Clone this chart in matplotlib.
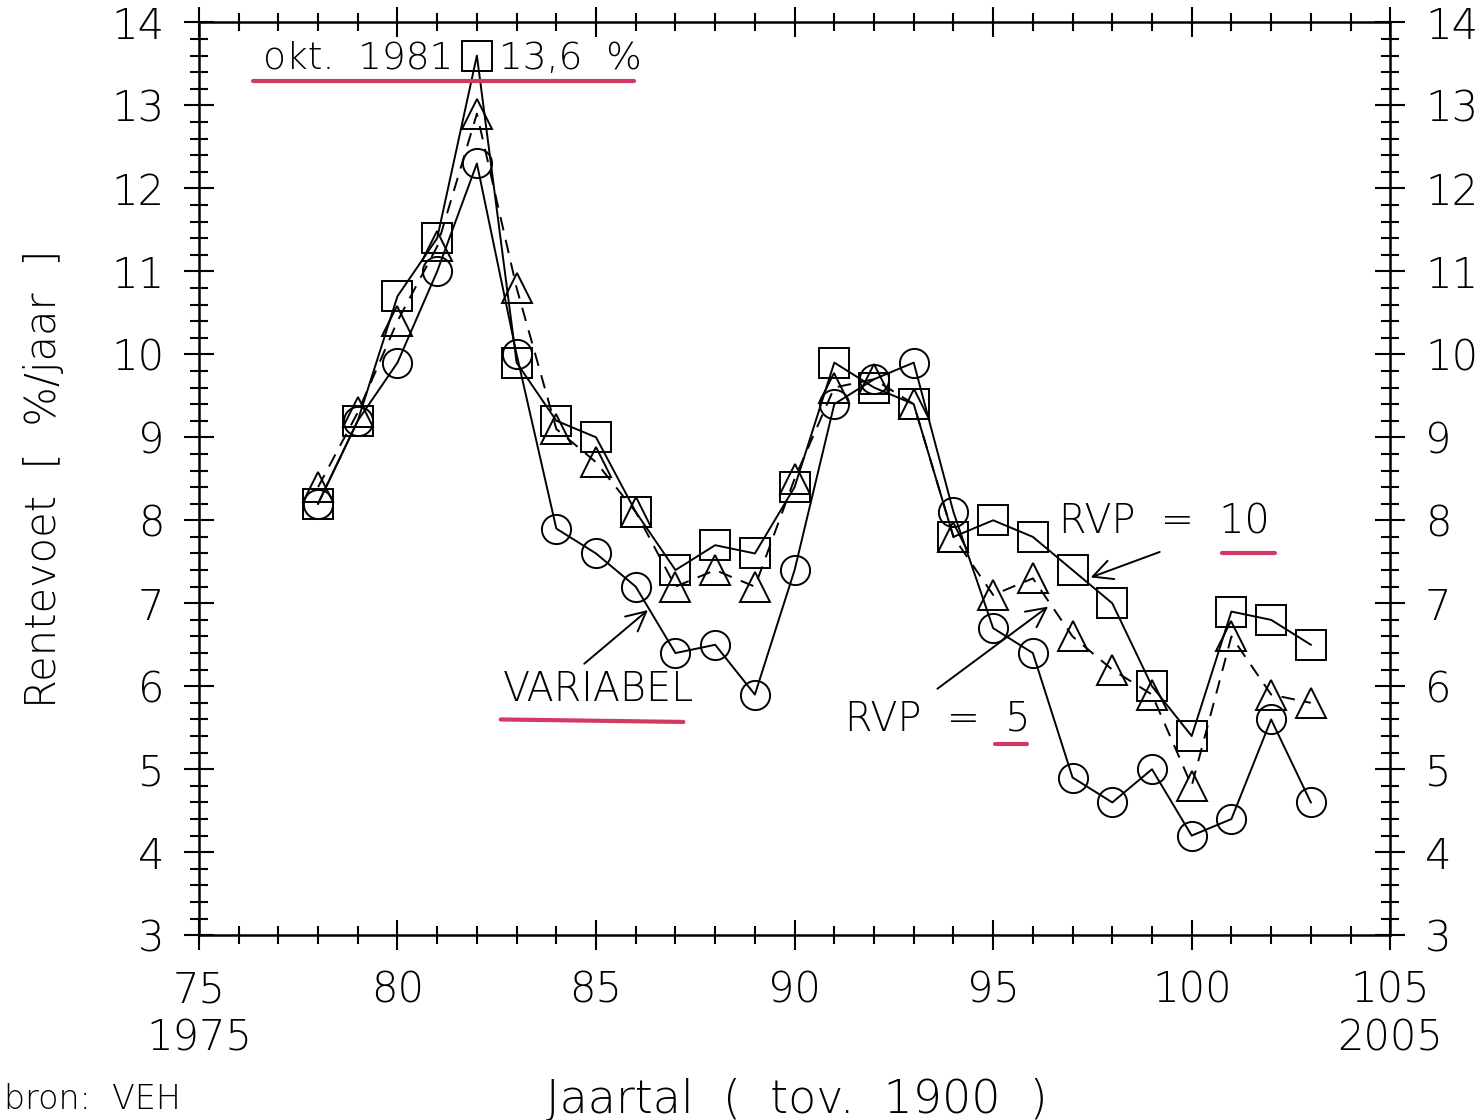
import numpy as np
import matplotlib.pyplot as plt
from matplotlib.ticker import MultipleLocator

# jaartallen (tov. 1900)
jaar = [78, 79, 80, 81, 82, 83, 84, 85, 86, 87, 88, 89, 90,
        91, 92, 93, 94, 95, 96, 97, 98, 99, 100, 101, 102, 103]

# rentevoet [%/jaar]
variabel = [8.2, 9.2, 9.9, 11.0, 12.3, 10.0, 7.9, 7.6, 7.2, 6.4, 6.5, 5.9, 7.4,
            9.4, 9.7, 9.9, 8.1, 6.7, 6.4, 4.9, 4.6, 5.0, 4.2, 4.4, 5.6, 4.6]
rvp5 = [8.4, 9.3, 10.4, 11.3, 12.9, 10.8, 9.1, 8.7, 8.1, 7.2, 7.4, 7.2, 8.5,
        9.6, 9.7, 9.4, 7.8, 7.1, 7.3, 6.6, 6.2, 5.9, 4.8, 6.6, 5.9, 5.8]
rvp10 = [8.2, 9.2, 10.7, 11.4, 13.6, 9.9, 9.2, 9.0, 8.1, 7.4, 7.7, 7.6, 8.4,
         9.9, 9.6, 9.4, 7.8, 8.0, 7.8, 7.4, 7.0, 6.0, 5.4, 6.9, 6.8, 6.5]

xticks = [75, 80, 85, 90, 95, 100, 105]
xlabels = ["75\n1975", "80", "85", "90", "95", "100", "105\n2005"]

plt.rcParams['font.family'] = ['DejaVu Sans']
plt.rcParams['font.weight'] = 'light'
red = '#d23a63'
fs = 30
afs = 28.5

fig = plt.figure(figsize=(14.79, 11.2), dpi=100)
ax = fig.add_axes([0.1345, 0.165, 0.8055, 0.815])

mk = dict(markersize=21, markerfacecolor='none', markeredgecolor='black',
          markeredgewidth=1.4, color='black', linewidth=1.4)
ax.plot(jaar, variabel, marker='o', linestyle='-', **mk)
ax.plot(jaar, rvp5, marker='^', linestyle=(0, (7, 5)), **mk)
ax.plot(jaar, rvp10, marker='s', linestyle='-', **mk)

ax.set_xlim(75, 105)
ax.set_ylim(3, 14)
ax.xaxis.set_minor_locator(MultipleLocator(1))
ax.yaxis.set_major_locator(MultipleLocator(1))
ax.yaxis.set_minor_locator(MultipleLocator(0.2))
ax.set_xticks(xticks)
ax.set_xticklabels(xlabels, linespacing=1.2)
ax.tick_params(which='both', direction='inout', top=True, right=True,
               labelright=True, labelsize=fs, width=1.5, colors='black')
ax.tick_params(which='major', length=22, pad=14)
ax.tick_params(which='minor', length=13)
for s in ax.spines.values():
    s.set_linewidth(1.8)

ax.set_ylabel("Rentevoet  [  %/jaar  ]", fontsize=fs, fontweight='light',
              labelpad=34)
fig.text(0.539, 0.018, "Jaartal  (  tov.  1900  )", fontsize=33,
         fontweight='light', ha='center', va='center')
fig.text(0.003, 0.004, "bron:  VEH", fontsize=24, fontweight='light',
         ha='left', va='bottom')

# annotaties
ax.text(82 - 0.6, 13.57, "okt.  1981", fontsize=27, ha='right', va='center')
ax.text(82 + 0.55, 13.57, "13,6  %", fontsize=27, ha='left', va='center')
ax.plot([76.35, 85.95], [13.29, 13.29], color=red, linewidth=3, solid_capstyle='round')

ax.text(85.05, 5.96, "VARIABEL", fontsize=afs, ha='center', va='center')
ax.plot([82.6, 87.2], [5.6, 5.57], color=red, linewidth=3, solid_capstyle='round')
ax.annotate("", xy=(86.36, 6.94), xytext=(84.65, 6.25),
            arrowprops=dict(arrowstyle='->', color='black', lw=1.4,
                            mutation_scale=35))

ax.text(96.65, 7.98, "RVP  =  10", fontsize=afs, ha='left', va='center')
ax.plot([100.77, 102.1], [7.61, 7.61], color=red, linewidth=3, solid_capstyle='round')
ax.annotate("", xy=(97.39, 7.30), xytext=(99.26, 7.63),
            arrowprops=dict(arrowstyle='->', color='black', lw=1.4,
                            mutation_scale=35))

ax.text(91.27, 5.61, "RVP  =  5", fontsize=afs, ha='left', va='center')
ax.plot([95.05, 95.86], [5.31, 5.31], color=red, linewidth=3, solid_capstyle='round')
ax.annotate("", xy=(96.44, 6.98), xytext=(93.54, 5.95),
            arrowprops=dict(arrowstyle='->', color='black', lw=1.4,
                            mutation_scale=35))

fig.savefig("out.png", dpi=100)
